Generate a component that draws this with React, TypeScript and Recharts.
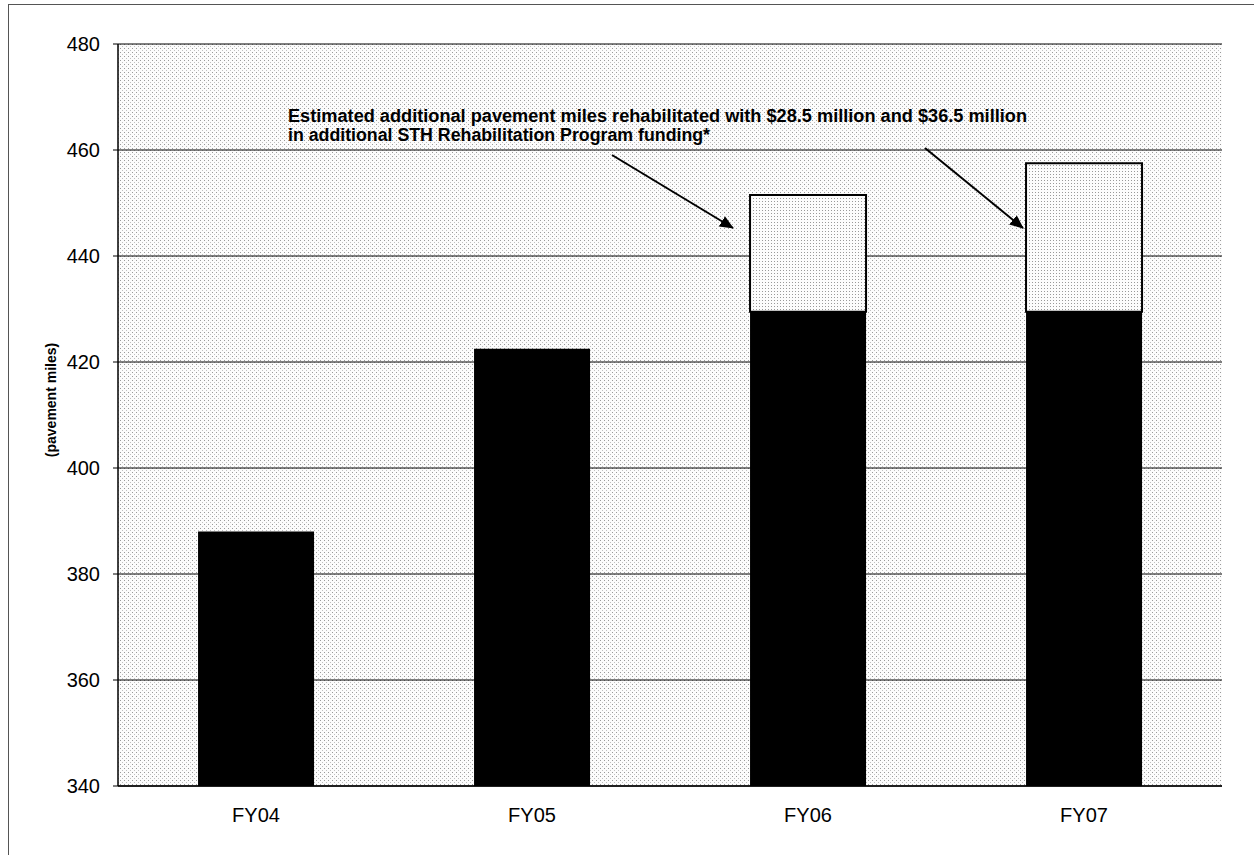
import React from 'react';
import { BarChart, Bar, XAxis, YAxis, CartesianGrid } from 'recharts';

const years = ['FY04', 'FY05', 'FY06', 'FY07'];
const baseMiles = [388, 422.5, 429.5, 429.5];
const additionalMiles = [0, 0, 22, 28];
const yTicks = [340, 360, 380, 400, 420, 440, 460, 480];

const data = years.map((year, i) => ({
  year,
  base: baseMiles[i],
  additional: additionalMiles[i],
}));

const FONT = '"Liberation Sans", Arial, sans-serif';

const YLabel = () => (
  <text
    x={56}
    y={400}
    transform="rotate(-90 56 400)"
    textAnchor="middle"
    fontFamily={FONT}
    fontWeight="bold"
    fontSize={14}
    fill="#000"
  >
    (pavement miles)
  </text>
);

const App: React.FC = () => {
  return (
    <div style={{ position: 'absolute', left: 0, top: 0, width: 1254, height: 855, background: '#fff' }}>
      {/* frame */}
      <div
        style={{
          position: 'absolute',
          left: 8,
          top: 4,
          width: 1246,
          height: 851,
          borderLeft: '1px solid #555',
          borderTop: '1px solid #555',
        }}
      />
      <BarChart
        width={1254}
        height={855}
        data={data}
        margin={{ top: 44, right: 32, bottom: 0, left: 0 }}
        barCategoryGap="29%"
        style={{ position: 'absolute', left: 0, top: 0 }}
      >
        <defs>
          <pattern id="stipple" width="4" height="4" patternUnits="userSpaceOnUse">
            <rect width="4" height="4" fill="#fcfcfc" />
            <rect x="0" y="0" width="1" height="1" fill="#9a9a9a" />
            <rect x="2" y="2" width="1" height="1" fill="#c0c0c0" />
          </pattern>
          <pattern id="stippleBar" width="3" height="3" patternUnits="userSpaceOnUse">
            <rect width="3" height="3" fill="#fcfcfc" />
            <rect x="0" y="0" width="1" height="1" fill="#999" />
          </pattern>
        </defs>
        <CartesianGrid
          vertical={false}
          stroke="#000"
          strokeWidth={1}
          fill="url(#stipple)"
          fillOpacity={1}
        />
        <XAxis
          dataKey="year"
          height={69}
          tickLine={false}
          tickSize={0}
          tickMargin={22}
          axisLine={{ stroke: '#000', strokeWidth: 1.5 }}
          tick={{ fill: '#000', fontSize: 20, fontFamily: FONT }}
        />
        <YAxis
          domain={[340, 480]}
          ticks={yTicks}
          allowDataOverflow
          width={118}
          tickSize={5}
          tickMargin={13}
          tickLine={{ stroke: '#000' }}
          axisLine={{ stroke: '#000', strokeWidth: 1.5 }}
          tick={{ fill: '#000', fontSize: 20, fontFamily: FONT }}
          label={{ content: YLabel }}
        />
        <YAxis
          yAxisId="frame"
          orientation="right"
          width={0}
          tick={false}
          tickLine={false}
          axisLine={{ stroke: '#000', strokeWidth: 2 }}
        />
        <Bar dataKey="base" stackId="miles" fill="#000" isAnimationActive={false} />
        <Bar
          dataKey="additional"
          stackId="miles"
          fill="url(#stippleBar)"
          stroke="#000"
          strokeWidth={2}
          isAnimationActive={false}
        />
      </BarChart>
      {/* annotation overlay */}
      <svg
        width={1254}
        height={855}
        style={{ position: 'absolute', left: 0, top: 0, pointerEvents: 'none' }}
      >
        <defs>
          <marker id="head" markerWidth="14" markerHeight="12" refX="13" refY="6" orient="auto" markerUnits="userSpaceOnUse">
            <path d="M0,0 L14,6 L0,12 Z" fill="#000" />
          </marker>
        </defs>
        <text
          x={288}
          y={122}
          fontFamily={FONT}
          fontWeight="bold"
          fontSize={18}
          textLength={739}
          lengthAdjust="spacingAndGlyphs"
          fill="#000"
        >
          Estimated additional pavement miles rehabilitated with $28.5 million and $36.5 million
        </text>
        <text
          x={288}
          y={141}
          fontFamily={FONT}
          fontWeight="bold"
          fontSize={18}
          textLength={422}
          lengthAdjust="spacingAndGlyphs"
          fill="#000"
        >
          in additional STH Rehabilitation Program funding*
        </text>
        <line x1={612} y1={155} x2={733} y2={228} stroke="#000" strokeWidth={2} markerEnd="url(#head)" />
        <line x1={925} y1={148} x2={1023} y2={228} stroke="#000" strokeWidth={2} markerEnd="url(#head)" />
      </svg>
    </div>
  );
};

export default App;
